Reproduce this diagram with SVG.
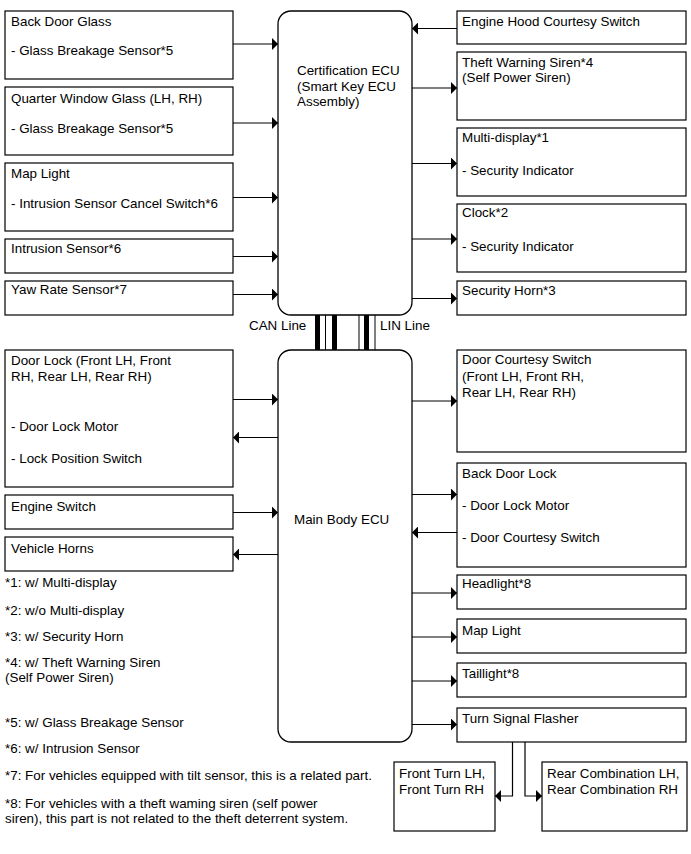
<svg xmlns="http://www.w3.org/2000/svg" width="691" height="854" viewBox="0 0 691 854">
<style>
.box{fill:#fff;stroke:#000;stroke-width:1.2}
.ecu{fill:#fff;stroke:#000;stroke-width:1.3}
.t{font-family:"Liberation Sans",Arial,sans-serif;font-size:13.4px;fill:#000}
.c{fill:none;stroke:#000;stroke-width:1.2}
</style>
<defs>
<marker id="ah" markerUnits="userSpaceOnUse" markerWidth="7" markerHeight="12" refX="6" refY="6" orient="auto">
<path d="M0,0 L6,6 L0,12 z" fill="#000"/>
</marker>
</defs>
<rect width="691" height="854" fill="#fff"/>

<g id="connectors">
<line class="c" x1="233" y1="44" x2="278" y2="44" marker-end="url(#ah)"/>
<line class="c" x1="233" y1="123" x2="278" y2="123" marker-end="url(#ah)"/>
<line class="c" x1="233" y1="197.5" x2="278" y2="197.5" marker-end="url(#ah)"/>
<line class="c" x1="233" y1="256.5" x2="278" y2="256.5" marker-end="url(#ah)"/>
<line class="c" x1="233" y1="294.5" x2="278" y2="294.5" marker-end="url(#ah)"/>
<line class="c" x1="457" y1="28.5" x2="412" y2="28.5" marker-end="url(#ah)"/>
<line class="c" x1="412" y1="88" x2="457" y2="88" marker-end="url(#ah)"/>
<line class="c" x1="412" y1="163.5" x2="457" y2="163.5" marker-end="url(#ah)"/>
<line class="c" x1="412" y1="239" x2="457" y2="239" marker-end="url(#ah)"/>
<line class="c" x1="412" y1="298.5" x2="457" y2="298.5" marker-end="url(#ah)"/>
<line class="c" x1="233" y1="399.5" x2="278" y2="399.5" marker-end="url(#ah)"/>
<line class="c" x1="278" y1="437.5" x2="233" y2="437.5" marker-end="url(#ah)"/>
<line class="c" x1="233" y1="512.5" x2="278" y2="512.5" marker-end="url(#ah)"/>
<line class="c" x1="278" y1="554.5" x2="233" y2="554.5" marker-end="url(#ah)"/>
<line class="c" x1="412" y1="401" x2="457" y2="401" marker-end="url(#ah)"/>
<line class="c" x1="412" y1="494.5" x2="457" y2="494.5" marker-end="url(#ah)"/>
<line class="c" x1="457" y1="532.5" x2="412" y2="532.5" marker-end="url(#ah)"/>
<line class="c" x1="412" y1="593" x2="457" y2="593" marker-end="url(#ah)"/>
<line class="c" x1="412" y1="637" x2="457" y2="637" marker-end="url(#ah)"/>
<line class="c" x1="412" y1="681" x2="457" y2="681" marker-end="url(#ah)"/>
<line class="c" x1="412" y1="724.5" x2="457" y2="724.5" marker-end="url(#ah)"/>
<polyline class="c" points="512.5,742 512.5,796 495,796" marker-end="url(#ah)"/>
<polyline class="c" points="525,742 525,796 542,796" marker-end="url(#ah)"/>
<g id="can-line">
<rect x="315" y="315" width="5" height="35" fill="#000"/>
<line x1="325.5" y1="315" x2="325.5" y2="350" stroke="#000" stroke-width="1"/>
<rect x="332" y="315" width="5" height="35" fill="#000"/>
</g>
<g id="lin-line">
<line x1="359" y1="315" x2="359" y2="350" stroke="#000" stroke-width="1"/>
<rect x="364" y="315" width="5" height="35" fill="#000"/>
<line x1="375" y1="315" x2="375" y2="350" stroke="#000" stroke-width="1"/>
</g>
<text class="t" x="249" y="330">CAN Line</text>
<text class="t" x="380" y="330">LIN Line</text>
</g>

<g id="cert-ecu">
<rect class="ecu" x="278" y="11" width="134" height="304" rx="13"/>
<text class="t" x="297" y="75">Certification ECU</text>
<text class="t" x="297" y="90.5">(Smart Key ECU</text>
<text class="t" x="297" y="106">Assembly)</text>
</g>
<g id="main-body-ecu">
<rect class="ecu" x="278" y="350" width="134" height="392" rx="13"/>
<text class="t" x="294" y="524">Main Body ECU</text>
</g>

<g id="back-door-glass">
<rect class="box" x="5" y="11" width="228" height="68"/>
<text class="t" x="11" y="25.5">Back Door Glass</text>
<text class="t" x="11" y="55">- Glass Breakage Sensor*5</text>
</g>
<g id="quarter-window-glass">
<rect class="box" x="5" y="87" width="228" height="68"/>
<text class="t" x="11" y="102.5">Quarter Window Glass (LH, RH)</text>
<text class="t" x="11" y="132.5">- Glass Breakage Sensor*5</text>
</g>
<g id="map-light-1">
<rect class="box" x="5" y="163" width="228" height="68"/>
<text class="t" x="11" y="178">Map Light</text>
<text class="t" x="11" y="208">- Intrusion Sensor Cancel Switch*6</text>
</g>
<g id="intrusion-sensor">
<rect class="box" x="5" y="239" width="228" height="34"/>
<text class="t" x="11" y="253">Intrusion Sensor*6</text>
</g>
<g id="yaw-rate-sensor">
<rect class="box" x="5" y="281" width="228" height="34"/>
<text class="t" x="11" y="293.5">Yaw Rate Sensor*7</text>
</g>

<g id="engine-hood">
<rect class="box" x="457" y="11" width="229" height="33"/>
<text class="t" x="462" y="25.5">Engine Hood Courtesy Switch</text>
</g>
<g id="theft-siren">
<rect class="box" x="457" y="52" width="229" height="68"/>
<text class="t" x="462" y="66.5">Theft Warning Siren*4</text>
<text class="t" x="462" y="81.5">(Self Power Siren)</text>
</g>
<g id="multi-display">
<rect class="box" x="457" y="128" width="229" height="68"/>
<text class="t" x="462" y="141.5">Multi-display*1</text>
<text class="t" x="462" y="174.5">- Security Indicator</text>
</g>
<g id="clock">
<rect class="box" x="457" y="204" width="229" height="68"/>
<text class="t" x="462" y="217">Clock*2</text>
<text class="t" x="462" y="251">- Security Indicator</text>
</g>
<g id="security-horn">
<rect class="box" x="457" y="281" width="229" height="34"/>
<text class="t" x="462" y="295">Security Horn*3</text>
</g>

<g id="door-lock">
<rect class="box" x="5" y="350" width="228" height="137"/>
<text class="t" x="11" y="365">Door Lock (Front LH, Front</text>
<text class="t" x="11" y="380.5">RH, Rear LH, Rear RH)</text>
<text class="t" x="11" y="431">- Door Lock Motor</text>
<text class="t" x="11" y="463">- Lock Position Switch</text>
</g>
<g id="engine-switch">
<rect class="box" x="5" y="495" width="228" height="34"/>
<text class="t" x="11" y="510.5">Engine Switch</text>
</g>
<g id="vehicle-horns">
<rect class="box" x="5" y="537" width="228" height="34"/>
<text class="t" x="11" y="553">Vehicle Horns</text>
</g>

<g id="door-courtesy">
<rect class="box" x="457" y="350" width="229" height="102"/>
<text class="t" x="462" y="364">Door Courtesy Switch</text>
<text class="t" x="462" y="380.5">(Front LH, Front RH,</text>
<text class="t" x="462" y="396.5">Rear LH, Rear RH)</text>
</g>
<g id="back-door-lock">
<rect class="box" x="457" y="463" width="229" height="104"/>
<text class="t" x="462" y="477.5">Back Door Lock</text>
<text class="t" x="462" y="510">- Door Lock Motor</text>
<text class="t" x="462" y="542">- Door Courtesy Switch</text>
</g>
<g id="headlight">
<rect class="box" x="457" y="575" width="229" height="34"/>
<text class="t" x="462" y="588">Headlight*8</text>
</g>
<g id="map-light-2">
<rect class="box" x="457" y="619" width="229" height="34"/>
<text class="t" x="462" y="635">Map Light</text>
</g>
<g id="taillight">
<rect class="box" x="457" y="663" width="229" height="34"/>
<text class="t" x="462" y="678">Taillight*8</text>
</g>
<g id="turn-signal-flasher">
<rect class="box" x="457" y="708" width="229" height="34"/>
<text class="t" x="462" y="723">Turn Signal Flasher</text>
</g>
<g id="front-turn">
<rect class="box" x="394" y="762" width="101" height="69"/>
<text class="t" x="399" y="777.5">Front Turn LH,</text>
<text class="t" x="399" y="794">Front Turn RH</text>
</g>
<g id="rear-combination">
<rect class="box" x="542" y="762" width="145" height="69"/>
<text class="t" x="547" y="777.5">Rear Combination LH,</text>
<text class="t" x="547" y="794">Rear Combination RH</text>
</g>

<g id="footnotes">
<text class="t" x="5" y="587">*1: w/ Multi-display</text>
<text class="t" x="5" y="615">*2: w/o Multi-display</text>
<text class="t" x="5" y="641">*3: w/ Security Horn</text>
<text class="t" x="5" y="667">*4: w/ Theft Warning Siren</text>
<text class="t" x="5" y="682">(Self Power Siren)</text>
<text class="t" x="5" y="727">*5: w/ Glass Breakage Sensor</text>
<text class="t" x="5" y="753">*6: w/ Intrusion Sensor</text>
<text class="t" x="5" y="780">*7: For vehicles equipped with tilt sensor, this is a related part.</text>
<text class="t" x="5" y="808">*8: For vehicles with a theft waming siren (self power</text>
<text class="t" x="5" y="823">siren), this part is not related to the theft deterrent system.</text>
</g>
</svg>
